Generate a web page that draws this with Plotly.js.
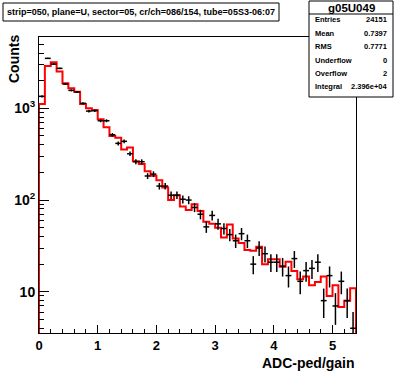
<!DOCTYPE html>
<html><head><meta charset="utf-8">
<script src="https://cdn.plot.ly/plotly-3.0.1.min.js"></script>
<style>html,body{margin:0;padding:0;background:#fff;}#chart{width:396px;height:372px;}</style>
</head><body><div id="chart"></div>
<script>
// Histogram definition: 54 bins from 0 to 5.4
const nBins = 54, xMin = 0, xMax = 5.4;

// Reference histogram (red step line)
const refCounts = [1114, 2890, 3180, 2530, 1874, 1653, 1517, 1114, 1000, 958, 759, 621,
  499, 477, 357, 374, 265, 247, 206, 184, 164, 137, 100, 113, 85,
  78, 90, 76, 58, 55, 50, 39, 54, 38, 34, 28.5, 28, 31, 20, 22.6,
  22.6, 18.7, 21.3, 16.8, 13.7, 14.7, 11.8, 12.8, 14.7, 9.0, 11.8, 6.8, 8.0, 10.9];

// Measured histogram g05U049 (black points with error bars)
const dataCounts = [1352, 3510, 3040, 2730, 1842, 1571, 1506, 1134, 934, 942, 733, 733,
  515, 415, 437, 320, 262, 262, 183, 192, 142, 142, 113, 113, 102,
  100, 83, 70, 51, 68, 55, 49, 42, 36, 43, 36, 20, 30, 26, 21,
  21, 19, 15, 23, 13, 17, 18, 21, 8, 15, 7, 13, 8, 4];

const yTickVals = [10, 100, 1000];
const yTickText = ['10', '10<sup>2</sup>', '10<sup>3</sup>'];
const yMinorVals = [4,5,6,7,8,9,20,30,40,50,60,70,80,90,200,300,400,500,600,700,800,900,2000,3000,4000,5000];

const titleText = 'strip=050, plane=U, sector=05, cr/ch=086/154, tube=05S3-06:07';
const statsName = 'g05U049';
const statLabels = ['Entries', 'Mean', 'RMS', 'Underflow', 'Overflow', 'Integral'];
const statValues = ['24151', '0.7397', '0.7771', '0', '2', '2.396e+04'];

const xTitle = 'ADC-ped/gain';
const yTitle = 'Counts';

// ---- build ----
const bw = (xMax - xMin) / nBins;
const edges = [], centers = [];
for (let i = 0; i < nBins; i++) { edges.push(xMin + i * bw); centers.push(xMin + (i + 0.5) * bw); }
const floorY = 1;
const stepX = [xMin].concat(edges, [xMax, xMax]);
const stepY = [floorY].concat(refCounts, [refCounts[nBins - 1], floorY]);
const errY = dataCounts.map(v => Math.sqrt(v));

// pixel -> paper helpers (plot area: x 39..356, y 37..333)
const L = 39, R = 356, T = 37, B = 333;
const px = p => (p - L) / (R - L);
const py = p => (B - p) / (B - T);

const FONT = 'Liberation Sans, Arial, Helvetica, sans-serif';

const traces = [
  {x: stepX, y: stepY, type: 'scatter', mode: 'lines', line: {shape: 'hv', color: '#ff0000', width: 2},
   hoverinfo: 'skip', showlegend: false},
  {x: centers, y: dataCounts, type: 'scatter', mode: 'markers', marker: {size: 0.1, color: '#000'},
   error_x: {type: 'constant', value: bw / 2, width: 0, thickness: 1.5, color: '#000'},
   error_y: {type: 'data', array: errY, width: 0, thickness: 1.5, color: '#000'},
   showlegend: false}
];

const shapes = [
  {type: 'rect', xref: 'paper', yref: 'paper', x0: px(3), x1: px(279), y0: py(21), y1: py(3),
   line: {color: '#000', width: 1}, fillcolor: '#fff', layer: 'above'},
  {type: 'rect', xref: 'paper', yref: 'paper', x0: px(309), x1: px(393), y0: py(97), y1: py(1),
   line: {color: '#000', width: 1}, fillcolor: '#fff', layer: 'above'},
  {type: 'line', xref: 'paper', yref: 'paper', x0: px(309), x1: px(393), y0: py(14), y1: py(14),
   line: {color: '#000', width: 1}, layer: 'above'}
];

const annotations = [
  {xref: 'paper', yref: 'paper', x: px(141), y: py(12), text: '<b>' + titleText + '</b>', showarrow: false,
   xanchor: 'center', yanchor: 'middle', font: {family: FONT, size: 9, color: '#000'}},
  {xref: 'paper', yref: 'paper', x: px(351), y: py(7.5), text: '<b>' + statsName + '</b>', showarrow: false,
   xanchor: 'center', yanchor: 'middle', font: {family: FONT, size: 11.5, color: '#000'}},
  {xref: 'paper', yref: 'paper', x: px(357), y: py(363), text: '<b>' + xTitle + '</b>', showarrow: false,
   xanchor: 'right', yanchor: 'middle', font: {family: FONT, size: 14, color: '#000'}},
  {xref: 'paper', yref: 'paper', x: px(14), y: py(33), text: '<b>' + yTitle + '</b>', showarrow: false,
   textangle: -90, xanchor: 'center', yanchor: 'top', font: {family: FONT, size: 14, color: '#000'}}
];
const rowY = [20, 33.3, 46.6, 60, 73.3, 86.6];
statLabels.forEach((lab, i) => {
  annotations.push({xref: 'paper', yref: 'paper', x: px(313), y: py(rowY[i]), text: '<b>' + lab + '</b>',
    showarrow: false, xanchor: 'left', yanchor: 'middle', font: {family: FONT, size: 7.5, color: '#000'}});
  annotations.push({xref: 'paper', yref: 'paper', x: px(389), y: py(rowY[i]), text: '<b>' + statValues[i] + '</b>',
    showarrow: false, xanchor: 'right', yanchor: 'middle', font: {family: FONT, size: 7.5, color: '#000'}});
});

const layout = {
  width: 396, height: 372,
  margin: {l: L, r: 396 - R, t: T, b: 372 - B, pad: 0},
  paper_bgcolor: '#fff', plot_bgcolor: '#fff',
  showlegend: false,
  xaxis: {range: [xMin, xMax], showgrid: false, zeroline: false, showline: true, mirror: true,
    linecolor: '#000', linewidth: 1, ticks: 'inside', ticklen: 8, tickcolor: '#000', dtick: 1, tick0: 0,
    tickfont: {family: FONT, size: 13, color: '#000', weight: 'bold'},
    minor: {dtick: 0.2, tick0: 0, ticks: 'inside', ticklen: 4, tickcolor: '#000', showgrid: false}},
  yaxis: {type: 'log', range: [Math.log10(3.55), Math.log10(6000)], showgrid: false, zeroline: false,
    showline: true, mirror: true, linecolor: '#000', linewidth: 1, ticks: 'inside', ticklen: 10,
    tickcolor: '#000', tickmode: 'array', tickvals: yTickVals, ticktext: yTickText,
    tickfont: {family: FONT, size: 14, color: '#000', weight: 'bold'},
    minor: {tickmode: 'array', tickvals: yMinorVals, ticks: 'inside', ticklen: 5, tickcolor: '#000', showgrid: false}},
  shapes: shapes,
  annotations: annotations
};

Plotly.newPlot('chart', traces, layout, {displayModeBar: false, staticPlot: true});
</script></body></html>
